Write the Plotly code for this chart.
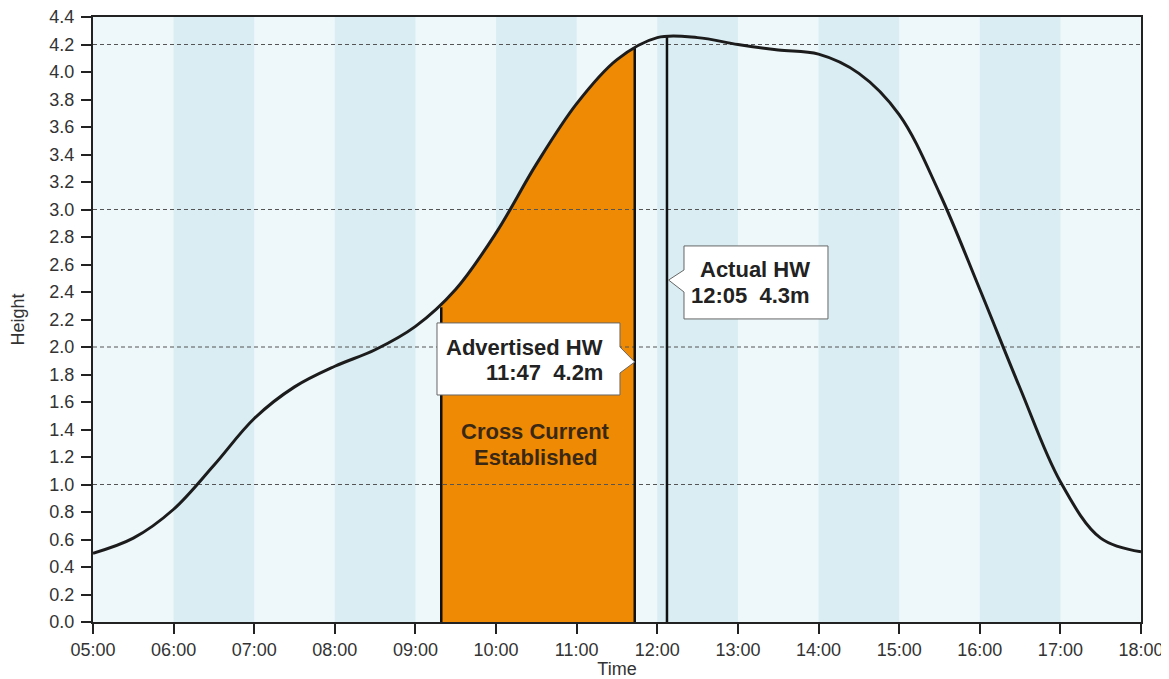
import plotly.graph_objects as go

# ---- data (hours as decimal, heights in metres) ----
hours = [5.0, 5.5, 6.0, 6.5, 7.0, 7.5, 8.0, 8.5, 9.0, 9.5, 10.0, 10.5, 11.0,
         11.5, 12.0, 12.5, 13.0, 13.5, 14.0, 14.5, 15.0, 15.5, 16.0, 16.5, 17.0,
         17.5, 18.0]
heights = [0.50, 0.61, 0.82, 1.14, 1.48, 1.71, 1.86, 1.98, 2.15, 2.42, 2.83, 3.33, 3.77,
           4.09, 4.25, 4.25, 4.20, 4.16, 4.13, 3.99, 3.69, 3.12, 2.42, 1.70, 1.02,
           0.61, 0.51]

cross_start, cross_start_height = 9.32, 2.29     # cross current established
cross_end, cross_end_height = 11.72, 4.18        # advertised HW line
actual_hw, actual_hw_height = 12.12, 4.26        # actual HW line
ref_levels = [1.0, 2.0, 3.0, 4.2]
tick_hours = list(range(5, 19))
tick_labels = [f"{h:02d}:00" for h in tick_hours]
y_ticks = [round(0.2 * i, 1) for i in range(23)]

X0, X1, Y0, Y1 = 5, 18, 0, 4.4
FONT = "Liberation Sans, Arial, sans-serif"
LIGHT = "#EEF7FA"
DARK = "#D9EDF3"
ORANGE = "#EF8A05"
INK = "#1c1c1c"

fig = go.Figure()

# orange fill: same curve, clipped by a hidden x axis spanning only the cross-current window
fig.add_trace(go.Scatter(x=hours, y=heights, xaxis="x", yaxis="y", mode="lines",
                         line=dict(color=ORANGE, width=0, shape="spline", smoothing=1.0),
                         fill="tozeroy", fillcolor=ORANGE, hoverinfo="skip", showlegend=False))

# dashed reference lines
for lv in ref_levels:
    fig.add_trace(go.Scatter(x=[X0, X1], y=[lv, lv], xaxis="x2", yaxis="y", mode="lines",
                             line=dict(color="#555555", width=1, dash="4px,3px"),
                             hoverinfo="skip", showlegend=False))

# vertical lines
for vx, vy in [(cross_start, cross_start_height), (cross_end, cross_end_height),
               (actual_hw, actual_hw_height)]:
    fig.add_trace(go.Scatter(x=[vx, vx], y=[0, vy], xaxis="x2", yaxis="y", mode="lines",
                             line=dict(color="#111111", width=2.5),
                             hoverinfo="skip", showlegend=False))

# tide curve
fig.add_trace(go.Scatter(x=hours, y=heights, xaxis="x2", yaxis="y", mode="lines",
                         line=dict(color=INK, width=3, shape="spline", smoothing=1.0),
                         hoverinfo="skip", showlegend=False))

shapes = []
# background and stripes (paper coordinates so they sit below every subplot)
shapes.append(dict(type="rect", xref="paper", yref="paper", x0=0, x1=1, y0=0, y1=1,
                   fillcolor=LIGHT, line=dict(width=0), layer="below"))
for h in tick_hours[:-1]:
    if (h - X0) % 2 == 1:
        shapes.append(dict(type="rect", xref="paper", yref="paper",
                           x0=(h - X0) / (X1 - X0), x1=(h + 1 - X0) / (X1 - X0), y0=0, y1=1,
                           fillcolor=DARK, line=dict(width=0), layer="below"))

# callout: advertised HW (pointer to the right)
ax0, ax1, at, ab = 9.267, 11.537, 2.175, 1.651
shapes.append(dict(type="path", xref="x2", yref="y",
                   path=f"M {ax0},{at} L {ax1},{at} L {ax1},2.0 L {cross_end},1.891 L {ax1},1.811 "
                        f"L {ax1},{ab} L {ax0},{ab} Z",
                   fillcolor="white", line=dict(color="#666666", width=1), layer="above"))
# callout: actual HW (pointer to the left)
bx0, bx1, bt, bb = 12.331, 14.117, 2.735, 2.204
shapes.append(dict(type="path", xref="x2", yref="y",
                   path=f"M {bx0},{bt} L {bx1},{bt} L {bx1},{bb} L {bx0},{bb} L {bx0},2.40 "
                        f"L {actual_hw + 0.02},2.487 L {bx0},2.56 Z",
                   fillcolor="white", line=dict(color="#666666", width=1), layer="above"))

ann_font = dict(family=FONT, size=22, color="#222222")
cc_font = dict(family=FONT, size=22, color="#3a2814")
annotations = [
    dict(x=11.351, y=2.0, text="<b>Advertised HW</b>", xanchor="right", font=ann_font),
    dict(x=11.351, y=1.818, text="<b>11:47  4.2m</b>", xanchor="right", font=ann_font),
    dict(x=13.92, y=2.567, text="<b>Actual HW</b>", xanchor="right", font=ann_font),
    dict(x=13.92, y=2.378, text="<b>12:05  4.3m</b>", xanchor="right", font=ann_font),
    dict(x=10.483, y=1.382, text="<b>Cross Current</b>", xanchor="center", font=cc_font),
    dict(x=10.483, y=1.193, text="<b>Established</b>", xanchor="center", font=cc_font),
]
for a in annotations:
    a.update(xref="x2", yref="y", showarrow=False, yanchor="middle")

axis_common = dict(showgrid=False, zeroline=False, showline=True, linecolor="#222222",
                   linewidth=2, mirror=True, ticks="outside", ticklen=10, tickwidth=2,
                   tickcolor="#222222", automargin=False, ticklabeloverflow="allow")

# the page body has an 8px margin; the figure is sized so the plot area lands where
# the reference has it inside the 1169x679 window
fig.update_layout(
    width=1161, height=671,
    margin=dict(l=85, r=28, t=9, b=57),
    paper_bgcolor="white", plot_bgcolor="rgba(0,0,0,0)",
    font=dict(family=FONT, size=18, color="#333333"),
    shapes=shapes, annotations=annotations, showlegend=False,
    xaxis=dict(visible=False, anchor="y", fixedrange=True,
               domain=[(cross_start - X0) / (X1 - X0), (cross_end - X0) / (X1 - X0)],
               range=[cross_start, cross_end]),
    xaxis2=dict(domain=[0, 1], anchor="y", range=[X0, X1], tickvals=tick_hours,
                ticktext=tick_labels, ticklabelstandoff=0,
                title=dict(text="Time", font=dict(size=18, color="#333333"), standoff=13),
                **axis_common),
    yaxis=dict(anchor="x2", domain=[0, 1], range=[Y0, Y1], tickvals=y_ticks, tickformat=".1f",
               ticklabelstandoff=3,
               title=dict(text="Height", font=dict(size=18, color="#333333"), standoff=21),
               **axis_common),
)

fig.write_html("out.html")
